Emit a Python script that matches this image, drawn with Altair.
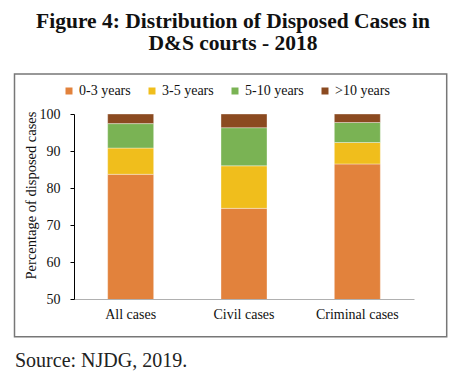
import altair as alt
import pandas as pd

categories = ["All cases", "Civil cases", "Criminal cases"]
groups = ["0-3 years", "3-5 years", "5-10 years", ">10 years"]
v_0_3 = [83.7, 74.5, 86.5]
v_3_5 = [7.1, 11.5, 5.8]
v_5_10 = [6.6, 10.3, 5.4]
v_10p = [2.6, 3.7, 2.3]
colors = ["#E2823C", "#F0BE1C", "#7AB354", "#8B4A20"]
y_ticks = [50, 60, 70, 80, 90, 100]

rows = []
for i, c in enumerate(categories):
    for j, (g, arr) in enumerate(zip(groups, [v_0_3, v_3_5, v_5_10, v_10p])):
        rows.append({"category": c, "group": g, "value": arr[i], "order": j})
df = pd.DataFrame(rows)

FONT = "Liberation Serif"

bars = alt.Chart(df).mark_bar(clip=True, stroke="white", strokeWidth=0.6, strokeOpacity=0.6).encode(
    x=alt.X("category:N", sort=categories, title=None,
            scale=alt.Scale(paddingInner=0.594, paddingOuter=0.297),
            axis=alt.Axis(labelAngle=0, ticks=False, domainColor="#b0b0b0", domainWidth=1,
                          labelFont=FONT, labelFontSize=14, labelColor="#111", labelPadding=8)),
    y=alt.Y("value:Q", stack="zero", title="Percentage of disposed cases",
            scale=alt.Scale(domain=[50, 100], nice=False, zero=False),
            axis=alt.Axis(values=y_ticks, grid=False, domainColor="#000", tickColor="#000",
                          tickSize=4, labelPadding=10, labelFont=FONT, labelFontSize=14,
                          labelColor="#111", titleFont=FONT, titleFontSize=14.5,
                          titleFontWeight="normal", titleColor="#111", titlePadding=1,
                          titleY=81)),
    color=alt.Color("group:N", sort=groups,
                    scale=alt.Scale(domain=groups, range=colors),
                    legend=alt.Legend(title=None, orient="none", legendX=-12, legendY=-30,
                                      direction="horizontal", columns=4, symbolType="square",
                                      symbolSize=49, symbolStrokeWidth=0, labelFont=FONT,
                                      labelFontSize=14, labelColor="#111", labelOffset=3,
                                      columnPadding=14)),
    order=alt.Order("order:Q"),
)

frame = alt.Chart(pd.DataFrame({"k": [0]})).mark_rect(fill=None, stroke="#777", strokeWidth=1.5).encode(
    x=alt.value(-59.5), x2=alt.value(372.7), y=alt.value(-40), y2=alt.value(222.7)
)

source = alt.Chart(pd.DataFrame({"t": ["Source: NJDG, 2019."]})).mark_text(
    align="left", baseline="alphabetic", font=FONT, fontSize=20, color="#222"
).encode(x=alt.value(-59), y=alt.value(253), text="t:N")

chart = alt.layer(frame, bars, source).properties(
    width=340, height=185,
    title=alt.TitleParams(text=["Figure 4: Distribution of Disposed Cases in", "D&S courts - 2018"],
                          font=FONT, fontSize=21.5, fontWeight="bold", color="#111",
                          anchor="middle", frame="group", dx=-11, lineHeight=22, offset=19),
    autosize=alt.AutoSizeParams(type="none"),
    padding={"left": 66, "top": 106, "right": 44, "bottom": 72},
).configure_view(stroke=None)

chart.save("out.html", embed_options={"renderer": "svg", "actions": False})
